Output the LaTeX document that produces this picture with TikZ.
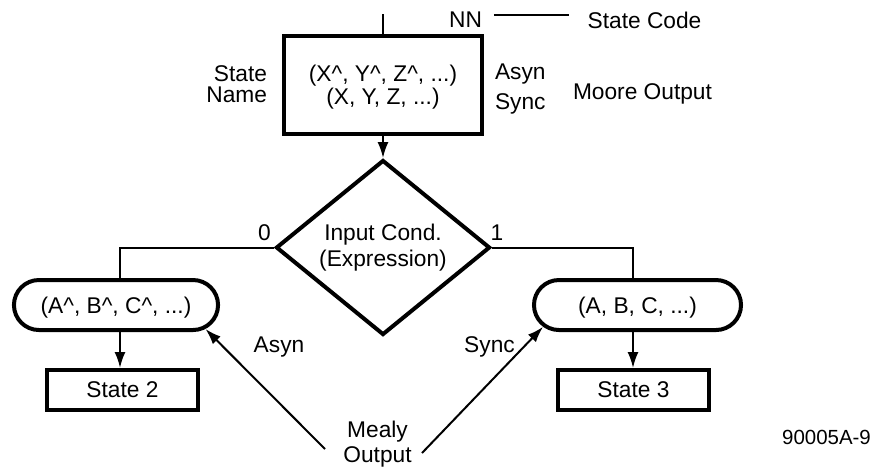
\documentclass[tikz,border=0pt]{standalone}
\usepackage{fontspec}
\setmainfont{Liberation Sans}
\usetikzlibrary{shapes.geometric,shapes.misc,arrows.meta}
\begin{document}
\begin{tikzpicture}
[x=0.44pt,y=-0.44pt,line width=0.88pt,font=\fontsize{10}{9.24}\selectfont,
 >={Latex[length=7pt,width=4.8pt]},
 box/.style={draw,line width=1.76pt,inner sep=0pt,minimum width=66.4pt,minimum height=17.6pt},
 oval/.style={draw,rounded rectangle,line width=1.76pt,inner sep=0pt,minimum height=22pt,text depth=0pt},
 lbl/.style={inner sep=0pt}]
\useasboundingbox (0,0) rectangle (877,466);
\path (383,85) node (state) [box,minimum width=87.1pt,minimum height=42.7pt,align=center,text depth=0pt]
   {(X\textasciicircum, Y\textasciicircum, Z\textasciicircum, ...)\\(X, Y, Z, ...)}
( 383,247.5) node (cond) [diamond,draw,line width=1.76pt,inner sep=0pt,minimum width=94.2pt,minimum height=63.4pt,align=center]
   {Input Cond.\\[1.2pt](Expression)}
( 116,305) node (ovl) [oval,minimum width=89.8pt] {(A\textasciicircum, B\textasciicircum, C\textasciicircum, ...)}
( 637.5,305) node (ovr) [oval,minimum width=91.1pt] {(A, B, C, ...)}
( 122.5,390) node (st2) [box] {State 2}
( 633.5,390) node (st3) [box] {State 3}
( 268,84.2) node (sname) [lbl,anchor=east,align=right] {State\\Name}
( 465.5,20) node (nn) [lbl] {NN}
( 644.5,20) node (code) [lbl] {State Code}
( 494,74.3) node (asyn) [lbl,anchor=west] {Asyn}
( 494,104.2) node (sync) [lbl,anchor=west] {Sync}
( 572,94.2) node (moore) [lbl,anchor=west] {Moore Output}
( 264.5,232.5) node (zero) [lbl] {0}
( 497,232.5) node (one) [lbl] {1}
( 279,347.2) node (masyn) [lbl] {Asyn}
( 489.5,347.2) node (msync) [lbl] {Sync}
( 377.5,441.3) node (mealy) [lbl,align=center,text depth=0pt] {Mealy\\[1.8pt]Output}
( 826.5,437.5) node (fig) [lbl,font=\fontsize{9}{10}\selectfont] {90005A-9};
\coordinate (top) at (383,14);
\coordinate (jl) at (120,247.5);
\coordinate (jr) at (633,247.5);
\coordinate (m1) at (325,449);
\coordinate (m2) at (422,453);
\draw (top) -- (state);
\draw [->] (state) -- (cond);
\draw (cond.west) -- (jl) -- (jl |- ovl.north);
\draw (cond.east) -- (jr) -- (jr |- ovr.north);
\draw [->] (jl |- ovl.south) -- (jl |- st2.north);
\draw [->] (jr |- ovr.south) -- (jr |- st3.north);
\draw [->] (m1) -- (ovl.-15);
\draw [->] (m2) -- (ovr.193);
\draw [shorten <=4.8pt,shorten >=7.9pt] ([yshift=2pt]nn.east) -- ([yshift=2pt]code.west);
\end{tikzpicture}
\end{document}
